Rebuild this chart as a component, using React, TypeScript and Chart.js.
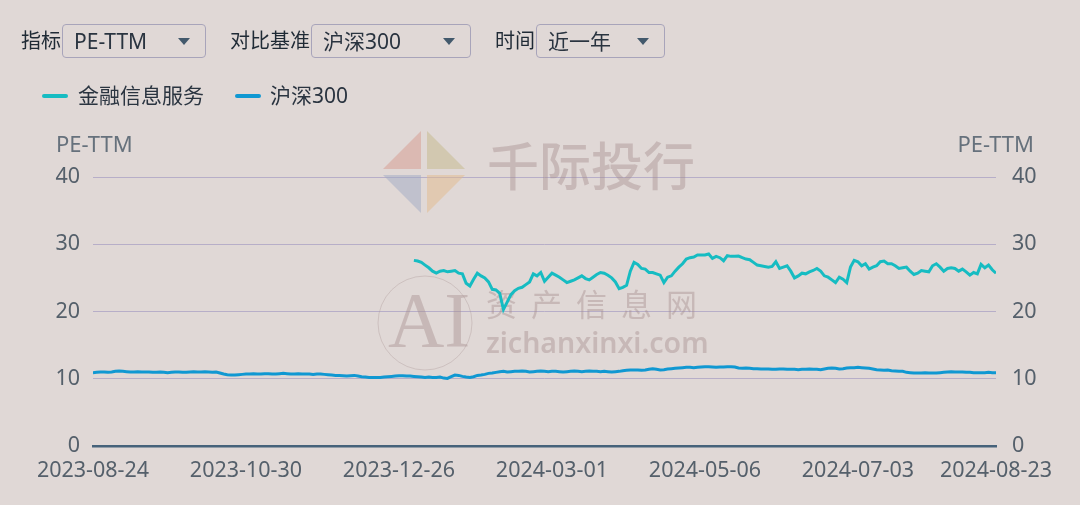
import React, { useEffect, useRef } from "react";
import { Chart, registerables } from "chart.js";

Chart.register(...registerables);

const totalDays = 243;
const xTickIndex = [0, 41, 82, 123, 164, 205, 242];
const xTickLabels = ["2023-08-24", "2023-10-30", "2023-12-26", "2024-03-01", "2024-05-06", "2024-07-03", "2024-08-23"];
const yTicks = [0, 10, 20, 30, 40];

const seriesNames = ["金融信息服务", "沪深300"];

// 金融信息服务 starts at trading-day index 86
const finStart = 86;
const finValues = [
  27.6, 27.5, 27.3, 26.9, 26.5, 26.0, 25.7, 26.0, 26.1, 25.9,
  26.0, 26.1, 25.7, 25.6, 24.2, 23.8, 24.8, 25.7, 25.3, 25.0,
  24.4, 23.3, 23.2, 22.7, 20.3, 21.4, 22.5, 23.1, 23.45, 23.6,
  24.0, 24.4, 25.6, 25.3, 25.8, 24.5, 25.1, 25.7, 25.4, 25.1,
  24.7, 24.3, 24.5, 24.7, 25.0, 25.3, 24.9, 24.7, 25.1, 25.5,
  25.8, 25.7, 25.4, 25.0, 24.4, 23.4, 23.6, 23.9, 26.0, 27.3,
  27.0, 26.4, 26.3, 25.8, 25.8, 25.6, 25.4, 24.3, 25.1, 25.3,
  26.0, 26.6, 27.1, 27.8, 28.0, 28.1, 28.4, 28.4, 28.4, 28.55,
  27.9, 28.2, 28.0, 27.55, 28.3, 28.2, 28.2, 28.25, 28.0, 27.8,
  27.7, 27.3, 26.9, 26.8, 26.7, 26.6, 26.7, 27.4, 26.4, 26.6,
  26.8, 26.0, 25.0, 25.3, 25.7, 25.6, 25.9, 26.1, 26.4, 26.0,
  25.3, 25.1, 24.7, 24.3, 25.1, 24.8, 24.3, 26.6, 27.6, 27.4,
  26.8, 27.1, 26.3, 26.6, 26.8, 27.4, 27.5, 27.1, 27.1, 26.8,
  26.4, 26.5, 26.6, 26.0, 25.5, 25.7, 26.1, 26.0, 25.9, 26.8,
  27.1, 26.6, 26.0, 26.4, 26.5, 26.4, 26.0, 26.3, 25.9, 25.4,
  25.8, 25.6, 27.0, 26.5, 26.9, 26.2, 25.7,
];

const hs300Values = [
  10.9, 10.95, 11.0, 11.0, 10.95, 11.0, 11.1, 11.15, 11.1, 11.05,
  11.0, 11.0, 11.05, 11.0, 11.0, 11.0, 10.95, 10.95, 11.0, 10.95,
  10.9, 10.95, 11.0, 11.0, 10.95, 10.95, 11.0, 11.05, 11.0, 11.0,
  11.05, 11.0, 10.95, 11.0, 10.85, 10.7, 10.6, 10.55, 10.55, 10.6,
  10.65, 10.7, 10.7, 10.75, 10.7, 10.7, 10.75, 10.75, 10.7, 10.7,
  10.75, 10.8, 10.75, 10.7, 10.7, 10.75, 10.7, 10.7, 10.7, 10.65,
  10.7, 10.7, 10.65, 10.6, 10.55, 10.5, 10.5, 10.45, 10.4, 10.45,
  10.5, 10.4, 10.3, 10.25, 10.2, 10.2, 10.2, 10.2, 10.25, 10.3,
  10.35, 10.4, 10.45, 10.45, 10.4, 10.4, 10.35, 10.3, 10.25, 10.2,
  10.25, 10.2, 10.2, 10.25, 10.1, 10.05, 10.3, 10.55, 10.5, 10.35,
  10.25, 10.2, 10.3, 10.5, 10.55, 10.65, 10.8, 10.85, 10.95, 11.05,
  11.1, 11.0, 11.05, 11.1, 11.1, 11.15, 11.1, 11.0, 11.05, 11.1,
  11.15, 11.1, 11.05, 11.1, 11.1, 11.05, 11.0, 11.05, 11.1, 11.15,
  11.1, 11.05, 11.1, 11.15, 11.1, 11.1, 11.05, 11.1, 11.05, 11.0,
  11.05, 11.1, 11.2, 11.25, 11.3, 11.3, 11.3, 11.25, 11.3, 11.4,
  11.5, 11.4, 11.3, 11.35, 11.45, 11.5, 11.55, 11.6, 11.65, 11.7,
  11.7, 11.65, 11.7, 11.75, 11.8, 11.8, 11.75, 11.7, 11.75, 11.75,
  11.8, 11.8, 11.75, 11.6, 11.55, 11.6, 11.55, 11.5, 11.5, 11.45,
  11.45, 11.45, 11.4, 11.4, 11.45, 11.45, 11.4, 11.4, 11.4, 11.35,
  11.4, 11.4, 11.45, 11.4, 11.4, 11.35, 11.45, 11.55, 11.6, 11.55,
  11.45, 11.5, 11.6, 11.65, 11.65, 11.7, 11.65, 11.6, 11.55, 11.45,
  11.35, 11.3, 11.25, 11.3, 11.2, 11.15, 11.1, 11.1, 10.95, 10.9,
  10.85, 10.85, 10.85, 10.9, 10.85, 10.85, 10.85, 10.9, 10.95, 11.0,
  11.05, 11.0, 11.0, 11.0, 10.95, 10.95, 10.9, 10.9, 10.9, 10.9,
  10.95, 10.9, 10.9,
];

const BG = "rgb(224,216,214)";
const FONT = "'Noto Sans', 'Noto Sans CJK SC', sans-serif";
const TEAL = "rgb(22,188,194)";
const BLUE = "rgb(16,152,210)";

const watermarkPlugin = {
  id: "watermark",
  beforeDatasetsDraw(chart: any) {
    const ctx = chart.ctx;
    ctx.save();
    // diamond logo
    const cx = 424, cy = 172, r = 44, g = 3;
    const pieces: [string, number, number][] = [
      ["rgba(215,160,150,0.55)", -1, -1],
      ["rgba(200,190,150,0.6)", 1, -1],
      ["rgba(160,170,195,0.5)", -1, 1],
      ["rgba(225,185,140,0.5)", 1, 1],
    ];
    pieces.forEach(([c, sx, sy]) => {
      ctx.fillStyle = c;
      ctx.beginPath();
      ctx.moveTo(cx + sx * g, cy + sy * g);
      ctx.lineTo(cx + sx * (r - g), cy + sy * g);
      ctx.lineTo(cx + sx * g, cy + sy * (r - g));
      ctx.closePath();
      ctx.fill();
    });
    ctx.fillStyle = "rgba(165,140,140,0.42)";
    ctx.font = `500 52px 'Noto Sans CJK SC', sans-serif`;
    ctx.textBaseline = "middle";
    ctx.fillText("千际投行", 487, 166);
    // AI seal
    ctx.strokeStyle = "rgba(170,150,150,0.35)";
    ctx.lineWidth = 1;
    ctx.beginPath();
    ctx.arc(425, 323, 47, 0, Math.PI * 2);
    ctx.stroke();
    ctx.font = `78px 'Liberation Serif', serif`;
    ctx.fillText("AI", 388, 326);
    ctx.font = `31px 'Noto Sans CJK SC', sans-serif`;
    (ctx as any).letterSpacing = "14px";
    ctx.fillText("资产信息网", 486, 304);
    (ctx as any).letterSpacing = "0px";
    ctx.font = `600 28.5px 'Noto Sans', sans-serif`;
    ctx.fillText("zichanxinxi.com", 486, 345);
    ctx.restore();
  },
};

function Select({ left, width, text }: { left: number; width: number; text: string }) {
  return (
    <div
      style={{
        position: "absolute",
        left,
        top: 24,
        width,
        height: 34,
        boxSizing: "border-box",
        border: "1px solid #a8a4ba",
        borderRadius: 4,
        fontSize: 21,
        lineHeight: "32px",
        paddingLeft: 11,
        color: "#2a3440",
      }}
    >
      {text}
      <div
        style={{
          position: "absolute",
          right: 15,
          top: 13,
          width: 0,
          height: 0,
          borderLeft: "6px solid transparent",
          borderRight: "6px solid transparent",
          borderTop: "7px solid #43596c",
        }}
      />
    </div>
  );
}

export default function App() {
  const ref = useRef<HTMLCanvasElement>(null);

  useEffect(() => {
    const finData = finValues.map((v, i) => ({ x: finStart + i, y: v }));
    const hsData = hs300Values.map((v, i) => ({ x: i, y: v }));
    const yCommon = (position: "left" | "right", width: number, pad: number) => ({
      type: "linear" as const,
      position,
      min: 0,
      max: 40,
      afterBuildTicks: (s: any) => {
        s.ticks = yTicks.map((v) => ({ value: v }));
      },
      afterFit: (s: any) => {
        s.width = width;
      },
      grid: {
        display: position === "left",
        color: "rgba(170,160,195,0.75)",
        lineWidth: 1,
        drawTicks: false,
      },
      border: { display: false },
      ticks: {
        padding: pad,
        color: "#55606b",
        font: { family: FONT, size: 21.5 },
      },
    });
    const chart = new Chart(ref.current!, {
      type: "line",
      data: {
        datasets: [
          {
            label: seriesNames[0],
            data: finData,
            borderColor: TEAL,
            borderWidth: 3,
            pointRadius: 0,
            tension: 0,
            yAxisID: "y",
          },
          {
            label: seriesNames[1],
            data: hsData,
            borderColor: BLUE,
            borderWidth: 3,
            pointRadius: 0,
            tension: 0,
            yAxisID: "y",
          },
        ],
      },
      options: {
        animation: false,
        responsive: false,
        maintainAspectRatio: false,
        layout: { padding: { top: 177, left: 0, right: 0, bottom: 0 } },
        plugins: { legend: { display: false }, tooltip: { enabled: false } },
        scales: {
          x: {
            type: "linear",
            min: 0,
            max: totalDays - 1,
            afterBuildTicks: (s: any) => {
              s.ticks = xTickIndex.map((v) => ({ value: v }));
            },
            afterFit: (s: any) => {
              s.height = 59;
            },
            grid: { display: false, drawTicks: false },
            border: { display: true, color: "#46627a", width: 2.5 },
            ticks: {
              padding: 12,
              maxRotation: 0,
              autoSkip: false,
              color: "#55606b",
              font: { family: FONT, size: 21.5 },
              callback: (v: any) => {
                const k = xTickIndex.indexOf(Number(v));
                return k >= 0 ? xTickLabels[k] : "";
              },
            },
          },
          y: yCommon("left", 93, 13),
          y2: yCommon("right", 84, 16),
        },
      },
      plugins: [watermarkPlugin],
    });
    return () => chart.destroy();
  }, []);

  const label = (left: number, text: string) => (
    <div style={{ position: "absolute", left, top: 24, lineHeight: "34px", fontSize: 20, color: "#1f2a35" }}>{text}</div>
  );

  return (
    <div
      style={{
        position: "fixed",
        left: 0,
        top: 0,
        width: 1080,
        height: 505,
        background: BG,
        fontFamily: FONT,
        overflow: "hidden",
      }}
    >
      <canvas ref={ref} width={1080} height={505} style={{ position: "absolute", left: 0, top: 0 }} />
      {label(21, "指标")}
      <Select left={62} width={144} text="PE-TTM" />
      {label(230, "对比基准")}
      <Select left={311} width={160} text="沪深300" />
      {label(495, "时间")}
      <Select left={536} width={129} text="近一年" />
      <div style={{ position: "absolute", left: 42, top: 94, width: 26, height: 4, borderRadius: 2, background: TEAL }} />
      <div style={{ position: "absolute", left: 78, top: 80, fontSize: 21, lineHeight: "30px", color: "#2a3440" }}>
        {seriesNames[0]}
      </div>
      <div style={{ position: "absolute", left: 235, top: 94, width: 26, height: 4, borderRadius: 2, background: BLUE }} />
      <div style={{ position: "absolute", left: 270, top: 80, fontSize: 21, lineHeight: "30px", color: "#2a3440" }}>
        {seriesNames[1]}
      </div>
      <div style={{ position: "absolute", left: 56, top: 128, fontSize: 22, lineHeight: "30px", color: "#66717c" }}>PE-TTM</div>
      <div style={{ position: "absolute", right: 1080 - 1034, top: 128, fontSize: 22, lineHeight: "30px", color: "#66717c" }}>PE-TTM</div>
    </div>
  );
}
